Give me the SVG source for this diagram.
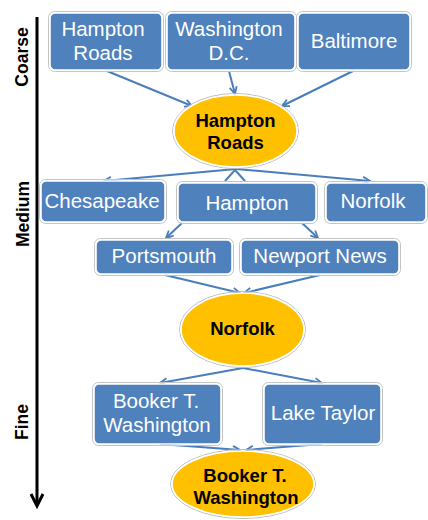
<svg xmlns="http://www.w3.org/2000/svg" width="428" height="520" viewBox="0 0 428 520">
<style>
.bo{fill:none;stroke:#c4c4c4;stroke-width:1}
.bx{fill:#4F81BD;stroke:#ffffff;stroke-width:1.6}
.el{fill:#FFC000;stroke:#ffffff;stroke-width:1.6}
.eo{fill:none;stroke:#bdbdbd;stroke-width:1}
.bt{font-family:"Liberation Sans",Arial,sans-serif;font-size:20.5px;fill:#ffffff;text-anchor:middle}
.et{font-family:"Liberation Sans",Arial,sans-serif;font-size:18.5px;font-weight:bold;fill:#000000;text-anchor:middle}
.ax{font-family:"Liberation Sans",Arial,sans-serif;font-size:17.5px;font-weight:bold;fill:#000000;text-anchor:middle}
.cn{stroke:#4A7EBB;stroke-width:2;fill:none;marker-end:url(#ah)}
.cp{stroke:#4A7EBB;stroke-width:2;fill:none}
</style>
<defs>
<marker id="ah" viewBox="0 0 10 10" refX="9" refY="5" markerWidth="9" markerHeight="9" markerUnits="userSpaceOnUse" orient="auto">
<path d="M1,1 L9,5 L1,9" fill="none" stroke="#4A7EBB" stroke-width="2"/>
</marker>
</defs>
<rect width="428" height="520" fill="#ffffff"/>

<g id="axis">
<line x1="37" y1="17" x2="37" y2="505" stroke="#000" stroke-width="3"/>
<polyline points="31,494 37,506 43,494" fill="none" stroke="#000" stroke-width="3"/>
<text class="ax" transform="translate(28,57) rotate(-90)">Coarse</text>
<text class="ax" transform="translate(29,214) rotate(-90)">Medium</text>
<text class="ax" transform="translate(28,422) rotate(-90)">Fine</text>
</g>

<g id="connectors">
<line class="cn" x1="107" y1="71" x2="192" y2="106"/>
<line class="cn" x1="229" y1="71" x2="235" y2="94"/>
<line class="cn" x1="353" y1="71" x2="282" y2="106"/>
<line class="cn" x1="236" y1="169" x2="104" y2="181"/>
<line class="cn" x1="236" y1="169" x2="370" y2="181"/>
<polyline class="cp" points="225,181 235,170 245,181"/>
<line class="cn" x1="182" y1="223" x2="166" y2="238"/>
<line class="cn" x1="302" y1="223" x2="318" y2="238"/>
<line class="cn" x1="165" y1="275" x2="240" y2="293"/>
<line class="cn" x1="320" y1="275" x2="244" y2="293"/>
<line class="cn" x1="243" y1="368" x2="160" y2="383"/>
<line class="cn" x1="243" y1="368" x2="322" y2="383"/>
<line class="cn" x1="160" y1="444" x2="240" y2="450"/>
<line class="cn" x1="322" y1="444" x2="246" y2="450"/>
</g>

<g id="n-hampton-roads-box">
<rect class="bo" x="48.5" y="11.5" width="115" height="60" rx="6"/>
<rect class="bx" x="50" y="13" width="112" height="57" rx="5"/>
<text class="bt" x="103" y="36">Hampton</text>
<text class="bt" x="103" y="60">Roads</text>
</g>
<g id="n-washington-dc">
<rect class="bo" x="165.5" y="11.5" width="131" height="60" rx="6"/>
<rect class="bx" x="167" y="13" width="128" height="57" rx="5"/>
<text class="bt" x="229" y="36">Washington</text>
<text class="bt" x="229" y="60">D.C.</text>
</g>
<g id="n-baltimore">
<rect class="bo" x="296.5" y="11.5" width="115" height="60" rx="6"/>
<rect class="bx" x="298" y="13" width="112" height="57" rx="5"/>
<text class="bt" x="354" y="48">Baltimore</text>
</g>

<g id="n-hampton-roads">
<ellipse class="eo" cx="235.5" cy="131" rx="63" ry="37.5"/>
<ellipse class="el" cx="235.5" cy="131" rx="61.5" ry="36"/>
<text class="et" x="235.5" y="127">Hampton</text>
<text class="et" x="235.5" y="149">Roads</text>
</g>

<g id="n-chesapeake">
<rect class="bo" x="39.5" y="179.5" width="127" height="44" rx="6"/>
<rect class="bx" x="41" y="181" width="124" height="41" rx="5"/>
<text class="bt" x="102" y="208">Chesapeake</text>
</g>
<g id="n-hampton">
<rect class="bo" x="176.5" y="181.5" width="141" height="42" rx="6"/>
<rect class="bx" x="178" y="183" width="138" height="39" rx="5"/>
<text class="bt" x="247" y="210">Hampton</text>
</g>
<g id="n-norfolk-box">
<rect class="bo" x="324.5" y="181.5" width="103" height="42" rx="6"/>
<rect class="bx" x="326" y="183" width="100" height="39" rx="5"/>
<text class="bt" x="373" y="208">Norfolk</text>
</g>

<g id="n-portsmouth">
<rect class="bo" x="94.5" y="238.5" width="139" height="37" rx="6"/>
<rect class="bx" x="96" y="240" width="136" height="34" rx="5"/>
<text class="bt" x="164" y="263">Portsmouth</text>
</g>
<g id="n-newport-news">
<rect class="bo" x="239.5" y="238.5" width="161" height="37" rx="6"/>
<rect class="bx" x="241" y="240" width="158" height="34" rx="5"/>
<text class="bt" x="320" y="263">Newport News</text>
</g>

<g id="n-norfolk">
<ellipse class="eo" cx="242.5" cy="329.5" rx="63" ry="38"/>
<ellipse class="el" cx="242.5" cy="329.5" rx="61.5" ry="36.5"/>
<text class="et" x="242.5" y="335">Norfolk</text>
</g>

<g id="n-booker-box">
<rect class="bo" x="92.5" y="382.5" width="130" height="63" rx="6"/>
<rect class="bx" x="94" y="384" width="127" height="60" rx="5"/>
<text class="bt" x="156" y="408">Booker T.</text>
<text class="bt" x="157" y="432">Washington</text>
</g>
<g id="n-lake-taylor">
<rect class="bo" x="262.5" y="382.5" width="120" height="63" rx="6"/>
<rect class="bx" x="264" y="384" width="117" height="60" rx="5"/>
<text class="bt" x="323" y="420">Lake Taylor</text>
</g>

<g id="n-booker">
<ellipse class="eo" cx="243" cy="484" rx="72.5" ry="34.5"/>
<ellipse class="el" cx="243" cy="484" rx="71" ry="33"/>
<text class="et" x="245" y="482">Booker T.</text>
<text class="et" x="246" y="504">Washington</text>
</g>
</svg>
